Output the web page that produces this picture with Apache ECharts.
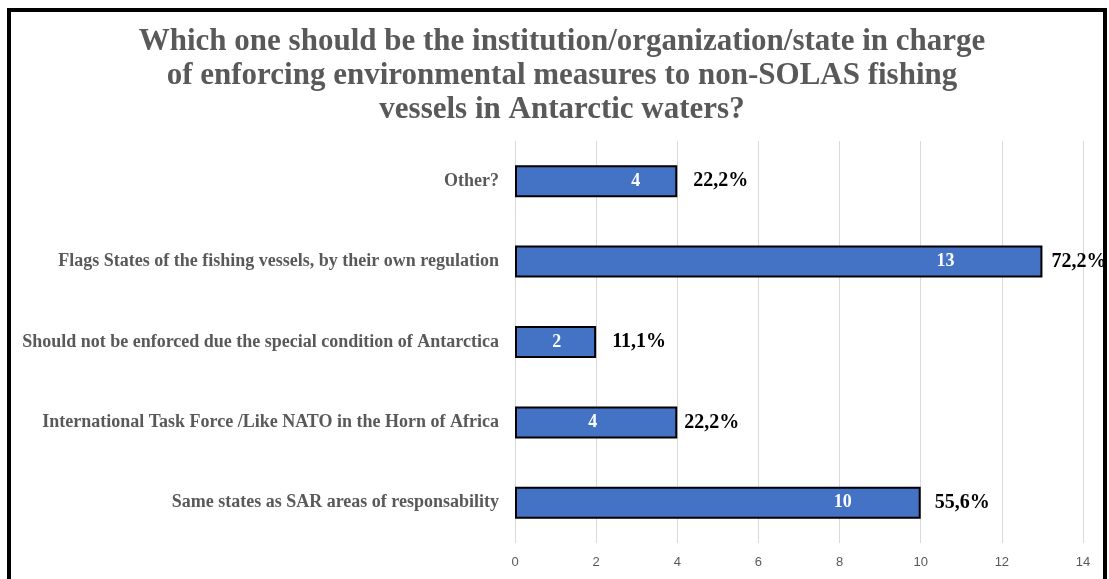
<!DOCTYPE html>
<html>
<head>
<meta charset="utf-8">
<script src="https://cdn.jsdelivr.net/npm/echarts@6/dist/echarts.min.js"></script>
<style>
  html, body { margin: 0; padding: 0; background: #ffffff; }
  #chart { width: 1109px; height: 579px; }
</style>
</head>
<body>
<div id="chart"></div>
<script>
// Survey answers, listed bottom-to-top as they appear on the category axis
const categories = [
  'Same states as SAR areas of responsability',
  'International Task Force /Like NATO in the Horn of Africa',
  'Should not be enforced due the special condition of Antarctica',
  'Flags States of the fishing vessels, by their own regulation',
  'Other?'
];
const responses = [10, 4, 2, 13, 4];
const shareLabels = ['55,6%', '22,2%', '11,1%', '72,2%', '22,2%'];
const xTicks = [0, 2, 4, 6, 8, 10, 12, 14];

// how far each count label sits in from the bar end, and each share label out from it
const countInset = [69, 80, 35, 88, 37];
const shareGap = [14, 7, 16, 9, 16];

const chart = echarts.init(document.getElementById('chart'), null, { renderer: 'canvas' });

const serif = '"Liberation Serif", "Times New Roman", serif';

chart.setOption({
  backgroundColor: '#ffffff',
  animation: false,
  title: {
    text: 'Which one should be the institution/organization/state in charge\nof enforcing environmental measures to non-SOLAS fishing\nvessels in Antarctic waters?',
    left: 557,
    textAlign: 'center',
    top: 20,
    textStyle: {
      fontFamily: serif,
      fontWeight: 'bold',
      fontSize: 31,
      lineHeight: 34,
      color: '#595959'
    }
  },
  grid: {
    left: 515,
    top: 141,
    width: 568,
    height: 402,
    containLabel: false
  },
  xAxis: {
    type: 'value',
    min: xTicks[0],
    max: xTicks[xTicks.length - 1],
    interval: xTicks[1] - xTicks[0],
    axisLine: { show: false },
    axisTick: { show: false },
    splitLine: { show: true, lineStyle: { color: '#d9d9d9', width: 1 } },
    axisLabel: {
      margin: 13,
      fontFamily: '"Liberation Sans", Arial, sans-serif',
      fontSize: 13,
      color: '#595959'
    }
  },
  yAxis: {
    type: 'category',
    data: categories,
    axisLine: { show: false },
    axisTick: { show: false },
    splitLine: { show: false },
    axisLabel: {
      margin: 16,
      fontFamily: serif,
      fontWeight: 'bold',
      fontSize: 18,
      color: '#595959'
    }
  },
  series: [
    {
      type: 'bar',
      barWidth: 32,
      data: responses.map((v, i) => ({
        value: v,
        label: { distance: countInset[i] }
      })),
      itemStyle: {
        color: '#4472c4',
        borderColor: '#000000',
        borderWidth: 2
      },
      label: {
        show: true,
        position: 'insideRight',
        fontFamily: serif,
        fontWeight: 'bold',
        fontSize: 18,
        color: '#ffffff'
      },
      z: 3
    },
    {
      // transparent twin series carrying the percentage labels beside each bar
      type: 'bar',
      barWidth: 32,
      barGap: '-100%',
      silent: true,
      data: responses.map((v, i) => ({
        value: v,
        label: { distance: shareGap[i] }
      })),
      itemStyle: { color: 'rgba(0,0,0,0)' },
      label: {
        show: true,
        position: 'right',
        formatter: (p) => shareLabels[p.dataIndex],
        fontFamily: serif,
        fontWeight: 'bold',
        fontSize: 20,
        color: '#000000'
      },
      z: 4
    }
  ],
  graphic: [
    {
      type: 'rect',
      shape: { x: 9, y: 10, width: 1096, height: 620 },
      style: { fill: 'none', stroke: '#000000', lineWidth: 4 },
      silent: true,
      z: 10
    }
  ]
});
</script>
</body>
</html>
